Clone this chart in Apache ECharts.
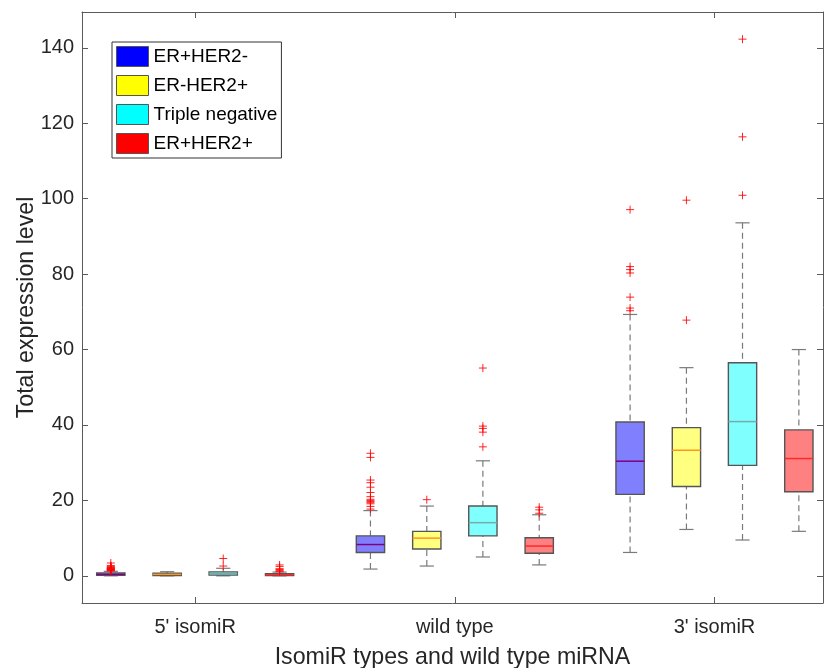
<!DOCTYPE html>
<html>
<head>
<meta charset="utf-8">
<script src="https://cdn.jsdelivr.net/npm/echarts@6/dist/echarts.min.js"></script>
<style>
  html, body { margin: 0; padding: 0; background: #fff; }
  #container { width: 824px; height: 668px; }
</style>
</head>
<body>
<div id="container"></div>
<script>
// categories
var groups = ["5' isomiR", "wild type", "3' isomiR"];
var subtypes = ['ER+HER2-', 'ER-HER2+', 'Triple negative', 'ER+HER2+'];
var yTicks = [0, 20, 40, 60, 80, 100, 120, 140];

// box stats per group: [lower whisker, Q1, median, Q3, upper whisker]
var erPosHer2Neg = [[0, 0.15, 0.4, 0.8, 1.2], [1.8, 6.2, 8.3, 10.6, 17.3], [6.2, 21.6, 30.4, 40.8, 69.3]];
var erNegHer2Pos = [[0, 0.1, 0.4, 0.7, 1.1], [2.6, 7.1, 10.0, 11.8, 18.5], [12.3, 23.7, 33.3, 39.3, 55.2]];
var tripleNeg = [[0, 0.2, 0.6, 1.05, 2.0], [5.0, 10.6, 14.1, 18.5, 30.5], [9.5, 29.3, 40.9, 56.5, 93.6]];
var erPosHer2Pos = [[0, 0.1, 0.3, 0.6, 1.0], [2.9, 6.0, 7.9, 10.1, 16.2], [11.8, 22.3, 31.1, 38.7, 60.0]];

// outliers per group
var outErPosHer2Neg = [
  [1.3, 1.4, 1.5, 1.6, 1.7, 1.8, 1.9, 2.0, 2.1, 2.2, 2.4, 2.6, 2.7, 3.4],
  [17.7, 18.4, 19.1, 19.4, 19.7, 20.0, 20.3, 21.0, 22.1, 23.5, 24.7, 25.4, 31.4, 32.5],
  [70.3, 71.0, 73.9, 80.3, 81.2, 82.0, 97.1]
];
var outErNegHer2Pos = [[], [20.2], [67.8, 99.6]];
var outTripleNeg = [[2.6, 4.6], [34.2, 38.1, 39.1, 39.7, 55.1], [100.9, 116.4, 142.3]];
var outErPosHer2Pos = [[1.1, 1.3, 1.5, 1.7, 1.9, 2.5, 2.9], [16.6, 17.5, 18.2], []];

var stats = [erPosHer2Neg, erNegHer2Pos, tripleNeg, erPosHer2Pos];
var outliers = [outErPosHer2Neg, outErNegHer2Pos, outTripleNeg, outErPosHer2Pos];

var fillColors = ['rgb(128,128,255)', 'rgb(255,255,128)', 'rgb(128,255,255)', 'rgb(255,128,128)'];
var medianColors = ['rgb(128,0,128)', 'rgb(255,150,30)', 'rgb(120,170,170)', 'rgb(255,40,40)'];
var legendColors = ['#0000ff', '#ffff00', '#00ffff', '#ff0000'];

var offsets = [-0.325, -0.108, 0.108, 0.325];
var boxWidth = 0.109;
var FONT = '"Liberation Sans", Arial, sans-serif';

var dom = document.getElementById('container');
var myChart = echarts.init(dom);

function boxRender(s) {
  return function (params, api) {
    var g = api.value(0);
    var xc = g + offsets[s];
    var lo = api.coord([xc, api.value(1)]);
    var q1 = api.coord([xc, api.value(2)]);
    var med = api.coord([xc, api.value(3)]);
    var q3 = api.coord([xc, api.value(4)]);
    var hi = api.coord([xc, api.value(5)]);
    var w = api.size([boxWidth, 0])[0];
    var cap = w / 4;
    var dash = { stroke: '#7a7a7a', lineWidth: 1.2, lineDash: [6, 4] };
    var solid = { stroke: '#7a7a7a', lineWidth: 1.2 };
    return {
      type: 'group',
      children: [
        { type: 'line', shape: { x1: hi[0], y1: hi[1], x2: q3[0], y2: q3[1] }, style: dash },
        { type: 'line', shape: { x1: lo[0], y1: lo[1], x2: q1[0], y2: q1[1] }, style: dash },
        { type: 'line', shape: { x1: hi[0] - cap, y1: hi[1], x2: hi[0] + cap, y2: hi[1] }, style: solid },
        { type: 'line', shape: { x1: lo[0] - cap, y1: lo[1], x2: lo[0] + cap, y2: lo[1] }, style: solid },
        {
          type: 'rect',
          shape: { x: q3[0] - w / 2, y: q3[1], width: w, height: q1[1] - q3[1] },
          style: { fill: fillColors[s], stroke: '#555', lineWidth: 1.4 }
        },
        { type: 'line', shape: { x1: med[0] - w / 2, y1: med[1], x2: med[0] + w / 2, y2: med[1] }, style: { stroke: medianColors[s], lineWidth: 1.5 } }
      ]
    };
  };
}

function plusRender(s) {
  return function (params, api) {
    var p = api.coord([api.value(0) + offsets[s], api.value(1)]);
    var r = 4;
    var st = { stroke: 'rgba(255,0,0,0.85)', lineWidth: 1 };
    return {
      type: 'group',
      children: [
        { type: 'line', shape: { x1: p[0] - r, y1: p[1], x2: p[0] + r, y2: p[1] }, style: st },
        { type: 'line', shape: { x1: p[0], y1: p[1] - r, x2: p[0], y2: p[1] + r }, style: st }
      ]
    };
  };
}

var series = [];
stats.forEach(function (st, s) {
  series.push({
    name: subtypes[s],
    type: 'custom',
    renderItem: boxRender(s),
    itemStyle: { color: legendColors[s] },
    encode: { x: 0, y: [1, 2, 3, 4, 5] },
    data: st.map(function (d, g) { return [g + 1].concat(d); }),
    z: 2
  });
});
outliers.forEach(function (og, s) {
  var pts = [];
  og.forEach(function (vals, g) {
    vals.forEach(function (v) { pts.push([g + 1, v]); });
  });
  series.push({
    name: 'outliers ' + subtypes[s],
    type: 'custom',
    renderItem: plusRender(s),
    encode: { x: 0, y: 1 },
    data: pts,
    z: 3
  });
});

var axisLineStyle = { color: '#5a5a5a', width: 1 };

option = {
  animation: false,
  backgroundColor: '#fff',
  textStyle: { fontFamily: FONT },
  grid: { left: 82, top: 12, right: 1, bottom: 65, containLabel: false, outerBoundsMode: 'none' },
  legend: {
    orient: 'vertical',
    left: 112,
    top: 42,
    padding: [4, 4, 4, 4],
    itemWidth: 32,
    itemHeight: 20,
    itemGap: 8,
    borderColor: '#333',
    borderWidth: 1,
    backgroundColor: '#fff',
    selectedMode: false,
    textStyle: { fontSize: 19, color: '#000', fontFamily: FONT },
    data: subtypes.map(function (n, i) {
      return { name: n, icon: 'rect', itemStyle: { color: legendColors[i], borderColor: '#555', borderWidth: 1 } };
    })
  },
  xAxis: [{
    type: 'value',
    min: 0.564,
    max: 3.418,
    position: 'bottom',
    name: 'IsomiR types and wild type miRNA',
    nameLocation: 'middle',
    nameGap: 43,
    nameMoveOverlap: false,
    nameTextStyle: { fontSize: 23.2, color: '#262626', fontFamily: FONT },
    axisLine: { show: true, onZero: false, lineStyle: axisLineStyle },
    axisTick: { show: true, inside: true, length: 6, customValues: [1, 2, 3], lineStyle: axisLineStyle },
    axisLabel: {
      customValues: [1, 2, 3],
      margin: 14,
      fontSize: 20,
      color: '#262626',
      formatter: function (v) { return groups[Math.round(v) - 1]; }
    },
    splitLine: { show: false }
  }, {
    type: 'value',
    min: 0.564,
    max: 3.418,
    position: 'top',
    axisLine: { show: true, onZero: false, lineStyle: axisLineStyle },
    axisTick: { show: true, inside: true, length: 6, customValues: [1, 2, 3], lineStyle: axisLineStyle },
    axisLabel: { show: false },
    splitLine: { show: false }
  }],
  yAxis: [{
    type: 'value',
    min: -7.2,
    max: 149.5,
    position: 'left',
    name: 'Total expression level',
    nameLocation: 'middle',
    nameGap: 44,
    nameMoveOverlap: false,
    nameRotate: 90,
    nameTextStyle: { fontSize: 23.2, color: '#262626', fontFamily: FONT },
    axisLine: { show: true, onZero: false, lineStyle: axisLineStyle },
    axisTick: { show: true, inside: true, length: 6, customValues: yTicks, lineStyle: axisLineStyle },
    axisLabel: { customValues: yTicks, margin: 8, fontSize: 20, color: '#262626' },
    splitLine: { show: false }
  }, {
    type: 'value',
    min: -7.2,
    max: 149.5,
    position: 'right',
    axisLine: { show: true, onZero: false, lineStyle: axisLineStyle },
    axisTick: { show: true, inside: true, length: 6, customValues: yTicks, lineStyle: axisLineStyle },
    axisLabel: { show: false },
    splitLine: { show: false }
  }],
  series: series
};
myChart.setOption(option, true);
</script>
</body>
</html>
